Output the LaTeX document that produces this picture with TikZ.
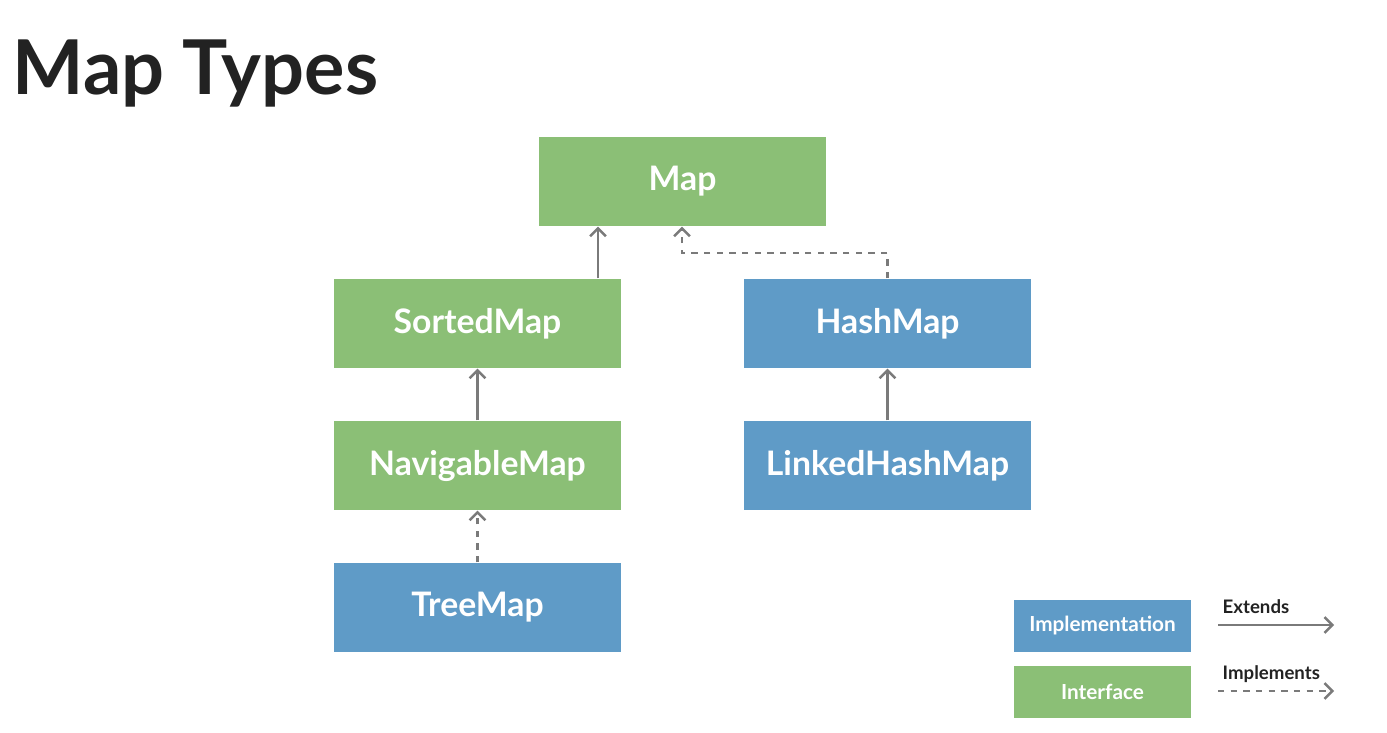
\documentclass[tikz,border=0pt]{standalone}
\usepackage{fontspec}
\setmainfont{Lato}
\usetikzlibrary{arrows.meta}
\definecolor{igreen}{HTML}{8BBF76}
\definecolor{iblue}{HTML}{5F9BC7}
\definecolor{agray}{HTML}{7A7A7A}
\definecolor{tdark}{HTML}{222222}
\tikzset{
  box/.style={draw=none, minimum width=2.87cm, minimum height=0.89cm, inner sep=0pt, text=white, font=\bfseries\fontsize{9.6}{11}\selectfont},
  ifc/.style={box, fill=igreen},
  impl/.style={box, fill=iblue},
  lbox/.style={draw=none, minimum width=1.77cm, minimum height=0.52cm, inner sep=0pt, text=white, font=\bfseries\fontsize{5.9}{7}\selectfont},
  ext/.style={draw=agray, line width=0.7pt, -{Straight Barb[length=2.2pt,width=4.5pt]}},
  imp/.style={ext, dash pattern=on 1.8pt off 1.8pt},
  lbl/.style={text=tdark, font=\bfseries\fontsize{5.3}{6}\selectfont, inner sep=0pt},
}
\begin{document}
\begin{tikzpicture}[x=0.01cm,y=-0.01cm]
\useasboundingbox[fill=white] (0,0) rectangle (1387,733);
\node[anchor=west, text=tdark, inner sep=0pt, font=\bfseries\fontsize{21.5}{24}\selectfont] (title) at (12,73) {Map Types};
\node[ifc] (map) at (682.5,181.5) {Map};
\node[ifc] (sorted) at (477.5,323.5) {SortedMap};
\node[ifc] (nav) at (477.5,465.5) {NavigableMap};
\node[impl] (tree) at (477.5,607.5) {TreeMap};
\node[impl] (hash) at (887.5,323.5) {HashMap};
\node[impl] (linked) at (887.5,465.5) {LinkedHashMap};
\draw[ext] (sorted.north -| 598,0) -- (map.south -| 598,0);
\draw[imp] (hash.north) -- (887.5,253) -| (map.south -| 682,0);
\draw[ext] (nav.north) -- (sorted.south);
\draw[imp] (tree.north) -- (nav.south);
\draw[ext] (linked.north) -- (hash.south);
% legend
\node[lbox, fill=iblue] (limpl) at (1102.5,626) {Implementation};
\node[lbox, fill=igreen] (lifc) at (1102.5,692) {Interface};
\coordinate (e1) at (1218,625);
\coordinate (e2) at (1334,625);
\coordinate (i1) at (1218,691);
\coordinate (i2) at (1334,691);
\draw[ext] (e1) -- (e2);
\draw[imp] (i1) -- (i2);
\node[lbl, anchor=west] (lext) at (1222,607) {Extends};
\node[lbl, anchor=west] (limp) at (1222,674) {Implements};
\end{tikzpicture}
\end{document}
